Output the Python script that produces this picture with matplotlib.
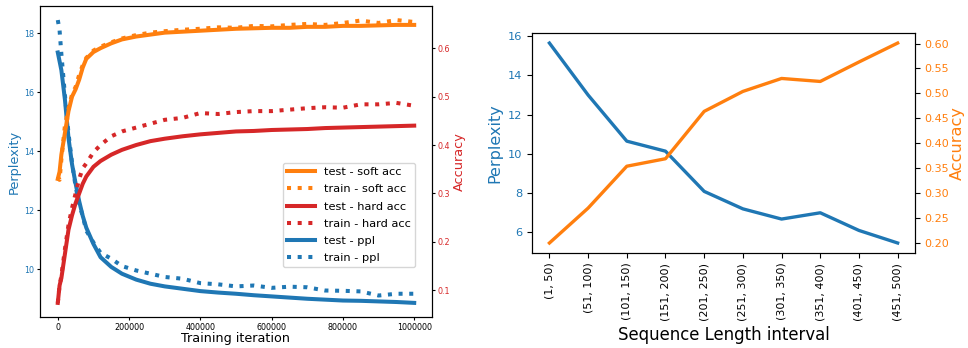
import numpy as np
import matplotlib
matplotlib.use("Agg")
from matplotlib import pyplot as plt

# left panel: training curves
iters = [0, 5000, 10000, 20000, 30000, 40000, 50000, 60000, 70000, 80000,
         100000, 120000, 150000, 180000, 220000, 260000, 300000, 350000,
         400000, 450000, 500000, 550000, 600000, 650000, 700000, 750000,
         800000, 850000, 900000, 950000, 1000000]
test_soft = [0.330, 0.345, 0.380, 0.425, 0.470, 0.500, 0.515, 0.535, 0.560, 0.578,
             0.592, 0.600, 0.610, 0.618, 0.624, 0.628, 0.632, 0.634, 0.636, 0.638,
             0.640, 0.641, 0.642, 0.642, 0.644, 0.644, 0.646, 0.646, 0.647, 0.648, 0.648]
train_soft = [0.335, 0.328, 0.370, 0.440, 0.475, 0.505, 0.520, 0.545, 0.565, 0.580,
              0.595, 0.603, 0.612, 0.620, 0.627, 0.632, 0.635, 0.638, 0.640, 0.643,
              0.642, 0.646, 0.645, 0.648, 0.650, 0.648, 0.652, 0.657, 0.652, 0.658, 0.654]
test_hard = [0.074, 0.110, 0.125, 0.175, 0.225, 0.255, 0.280, 0.300, 0.320, 0.335,
             0.355, 0.367, 0.380, 0.390, 0.400, 0.408, 0.413, 0.418, 0.422, 0.425,
             0.428, 0.429, 0.431, 0.432, 0.433, 0.435, 0.436, 0.437, 0.438, 0.439, 0.440]
train_hard = [0.074, 0.110, 0.130, 0.185, 0.235, 0.270, 0.300, 0.330, 0.352, 0.362,
              0.385, 0.400, 0.418, 0.428, 0.436, 0.444, 0.452, 0.456, 0.466, 0.464,
              0.468, 0.470, 0.470, 0.473, 0.476, 0.478, 0.477, 0.484, 0.484, 0.487, 0.481]
test_ppl = [17.35, 17.05, 16.75, 15.75, 14.45, 13.55, 12.90, 12.30, 11.80, 11.40,
            10.85, 10.40, 10.07, 9.84, 9.64, 9.50, 9.41, 9.33, 9.25, 9.20,
            9.16, 9.11, 9.07, 9.03, 8.99, 8.96, 8.93, 8.92, 8.90, 8.88, 8.85]
train_ppl = [18.45, 18.10, 17.30, 15.90, 14.60, 13.60, 12.80, 12.20, 11.80, 11.30,
             10.90, 10.55, 10.35, 10.10, 9.95, 9.84, 9.73, 9.67, 9.52, 9.48,
             9.41, 9.44, 9.36, 9.40, 9.38, 9.27, 9.26, 9.24, 9.10, 9.16, 9.16]

# right panel: by sequence length
intervals = ["(1, 50)", "(51, 100)", "(101, 150)", "(151, 200)", "(201, 250)",
             "(251, 300)", "(301, 350)", "(351, 400)", "(401, 450)", "(451, 500)"]
len_ppl = [15.65, 13.0, 10.65, 10.14, 8.09, 7.2, 6.68, 7.0, 6.1, 5.46]
len_acc = [0.200, 0.270, 0.354, 0.369, 0.464, 0.504, 0.530, 0.524, 0.563, 0.601]

blue, orange, red = "#1f77b4", "#ff7f0e", "#d62728"

fig = plt.figure(figsize=(9.68, 3.48), dpi=100)

# ---- left (rendered smaller, so ticks are short)
ax1 = fig.add_axes([0.0413, 0.089, 0.405, 0.894])
ax2 = ax1.twinx()
lw = 2.9
l5, = ax1.plot(iters, test_ppl, color=blue, lw=lw, label="test - ppl")
l6, = ax1.plot(iters, train_ppl, color=blue, lw=lw, ls=":", label="train - ppl")
l1, = ax2.plot(iters, test_soft, color=orange, lw=lw, label="test - soft acc")
l2, = ax2.plot(iters, train_soft, color=orange, lw=lw, ls=":", label="train - soft acc")
l3, = ax2.plot(iters, test_hard, color=red, lw=lw, label="test - hard acc")
l4, = ax2.plot(iters, train_hard, color=red, lw=lw, ls=":", label="train - hard acc")

ax1.set_xlabel("Training iteration", fontsize=9.2, labelpad=0)
ax1.set_ylabel("Perplexity", color=blue, fontsize=9.3, labelpad=2)
ax2.set_ylabel("Accuracy", color=red, fontsize=9.3, labelpad=2)
ax1.tick_params(axis="y", labelcolor=blue, labelsize=5.8, length=2.2, pad=2)
ax1.tick_params(axis="x", labelsize=5.8, length=2.2, pad=2)
ax2.tick_params(axis="y", labelcolor=red, labelsize=5.8, length=2.2, pad=2)
ax1.ticklabel_format(axis="x", style="plain")
ax1.set_yticks([10, 12, 14, 16, 18])

ax2.legend(handles=[l1, l2, l3, l4, l5, l6], loc="lower right",
           bbox_to_anchor=(0.957, 0.16), borderaxespad=0, fontsize=8.2,
           handlelength=2.4, labelspacing=0.62)

# ---- right
ax3 = fig.add_axes([0.5496, 0.273, 0.3957, 0.632])
ax4 = ax3.twinx()
xpos = np.arange(len(intervals))
ax3.plot(xpos, len_ppl, color=blue, lw=2.4)
ax4.plot(xpos, len_acc, color=orange, lw=2.4)
ax3.set_xticks(xpos)
ax3.set_xticklabels(intervals, rotation=90, fontsize=8)
ax3.set_xlabel("Sequence Length interval", fontsize=11.9)
ax3.set_ylabel("Perplexity", color=blue, fontsize=11.5)
ax4.set_ylabel("Accuracy", color=orange, fontsize=11.6, labelpad=1)
ax3.tick_params(axis="y", labelcolor=blue, labelsize=8.2)
ax4.tick_params(axis="y", labelcolor=orange, labelsize=8.0, pad=3)
ax4.set_yticks([0.20, 0.25, 0.30, 0.35, 0.40, 0.45, 0.50, 0.55, 0.60])
ax4.set_yticklabels(["0.20", "0.25", "0.30", "0.35", "0.40", "0.45", "0.50", "0.55", "0.60"])

fig.savefig("out.png", dpi=100)
